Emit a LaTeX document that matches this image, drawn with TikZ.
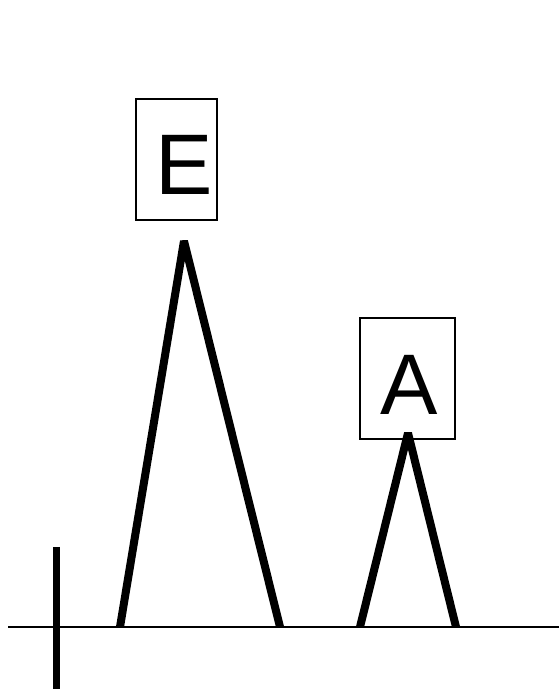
\documentclass[tikz,border=0pt]{standalone}
\usepackage{fontspec}
\setmainfont{Liberation Sans}
\begin{document}
\begin{tikzpicture}[x=1pt,y=1pt,
  peak/.style={line width=8pt, line join=bevel, line cap=butt},
  labelbox/.style={draw, line width=1.5pt},
  big/.style={font=\fontsize{86}{86}\selectfont, inner sep=0pt, anchor=base west}]
\useasboundingbox (0,0) rectangle (559,689);
% baseline and tick
\coordinate (b0) at (8,62);
\coordinate (b1) at (559,62);
\draw[line width=2.5pt] (b0) -- (b1);
\coordinate (t0) at (56,142);
\coordinate (t1) at (56,0);
\draw[line width=7pt] (t0) -- (t1);
% peaks
\coordinate (e1) at (120,62);
\coordinate (e2) at (184,448);
\coordinate (e3) at (280,62);
\draw[peak] (e1) -- (e2) -- (e3);
\coordinate (a1) at (360,62);
\coordinate (a2) at (408,256);
\coordinate (a3) at (456,62);
\draw[peak] (a1) -- (a2) -- (a3);
% label boxes
\draw[labelbox] (136,469) rectangle (217,590);
\node[big] (E) at (155,494) {E};
\draw[labelbox] (360,250) rectangle (455,371);
\node[big] (A) at (380,274) {A};
\end{tikzpicture}
\end{document}
